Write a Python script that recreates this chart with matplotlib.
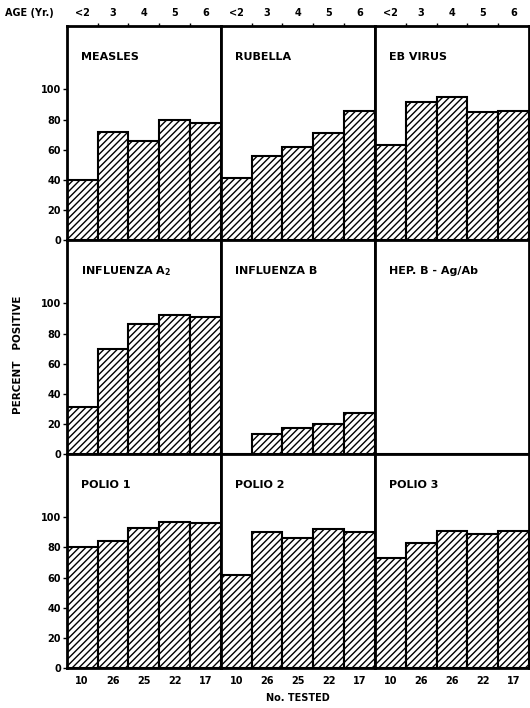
import numpy as np
import matplotlib
matplotlib.use("Agg")
import matplotlib.pyplot as plt

plt.rcParams['font.family'] = ['DejaVu Sans']
plt.rcParams['font.weight'] = 'bold'
plt.rcParams['hatch.linewidth'] = 1.0

ages = ["<2", "3", "4", "5", "6"]
titles = ["MEASLES", "RUBELLA", "EB VIRUS",
          "INFLUENZA A$_\\mathbf{2}$", "INFLUENZA B", "HEP. B - Ag/Ab",
          "POLIO 1", "POLIO 2", "POLIO 3"]

measles = [40, 72, 66, 80, 78]
rubella = [41, 56, 62, 71, 86]
eb_virus = [63, 92, 95, 85, 86]
influenza_a2 = [31, 70, 86, 92, 91]
influenza_b = [0, 13, 17, 20, 27]
hep_b = [0, 0, 0, 0, 0]
polio1 = [80, 84, 93, 97, 96]
polio2 = [62, 90, 86, 92, 90]
polio3 = [73, 83, 91, 89, 91]

n_tested = [["10", "26", "25", "22", "17"],
            ["10", "26", "25", "22", "17"],
            ["10", "26", "26", "22", "17"]]

data = [measles, rubella, eb_virus, influenza_a2, influenza_b, hep_b,
        polio1, polio2, polio3]

fig, axes = plt.subplots(3, 3, figsize=(5.3, 7.08), dpi=100)
fig.subplots_adjust(left=0.126, right=0.998, top=0.963, bottom=0.0565,
                    hspace=0, wspace=0)

x = np.arange(5)
for i, ax in enumerate(axes.flat):
    r, c = divmod(i, 3)
    ax.bar(x, data[i], width=1.0, color='white', edgecolor='black',
           hatch='/////', linewidth=1.5)
    ax.set_xlim(-0.5, 4.5)
    ax.set_ylim(0, 142)
    for s in ax.spines.values():
        s.set_linewidth(2)
    ax.text(0.09, 0.855, titles[i], transform=ax.transAxes, fontsize=8,
            fontweight='bold', va='center', ha='left')

    ax.set_xticks(x)
    ax.set_xticks(np.arange(0.5, 4.5, 1), minor=True)
    ax.tick_params(axis='x', which='major', length=0, labelsize=7)
    ax.tick_params(axis='x', which='minor', length=2, width=1)
    if r == 0:
        ax.tick_params(axis='x', which='both', top=True, labeltop=True,
                       bottom=False, labelbottom=False, pad=6)
        ax.set_xticklabels(ages)
    elif r == 2:
        ax.set_xticklabels(n_tested[c])
        ax.tick_params(axis='x', which='both', pad=6)
        ax.tick_params(axis='x', which='minor', length=0)
    else:
        ax.tick_params(axis='x', which='both', bottom=False, labelbottom=False)

    if c == 0:
        ax.set_yticks([0, 20, 40, 60, 80, 100])
        ax.tick_params(axis='y', length=3, width=1, labelsize=7, pad=1)
    else:
        ax.set_yticks([])

fig.text(0.01, 1 - 13 / 708, "AGE (Yr.)", fontsize=7, fontweight='bold',
         ha='left', va='center')
fig.text(0.034, 0.499, "PERCENT   POSITIVE", rotation=90, fontsize=7.5,
         fontweight='bold', ha='center', va='center')
fig.text(0.562, 0.014, "No. TESTED", fontsize=7, fontweight='bold',
         ha='center', va='center')

fig.savefig("out.png", dpi=100)
